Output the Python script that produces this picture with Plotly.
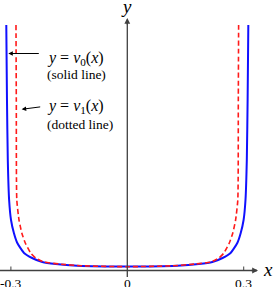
import plotly.graph_objects as go

# Curve samples (right half; mirrored for the left half)
blue_half_x = [0.0, 0.1289, 0.1843, 0.2191, 0.2454, 0.2662, 0.2835, 0.2923, 0.2997, 0.3046, 0.3080, 0.3101, 0.3119]
blue_half_y = [4.0, 4.8, 6.5, 8.5, 12.5, 17.5, 27.5, 37.5, 50.5, 70.5, 110.5, 170.5, 245.5]

red_half_x = [0.0, 0.1160, 0.1753, 0.2152, 0.2361, 0.2490, 0.2629, 0.2719, 0.2791, 0.2848, 0.2861, 0.2869]
red_half_y = [3.8, 4.7, 6.5, 8.5, 12.5, 17.5, 27.5, 37.5, 50.5, 70.5, 170.5, 245.5]

tick_vals = [-0.3, 0, 0.3]
tick_text = ["-0.3", "0", "0.3"]

blue_x = [-v for v in blue_half_x[::-1]] + blue_half_x[1:]
blue_y = blue_half_y[::-1] + blue_half_y[1:]
red_x = [-v for v in red_half_x[::-1]] + red_half_x[1:]
red_y = red_half_y[::-1] + red_half_y[1:]

SERIF = "Liberation Serif"
AX = "#404040"

fig = go.Figure()
fig.add_trace(go.Scatter(x=blue_x, y=blue_y, mode="lines",
                         line=dict(color="#1010ff", width=2, shape="spline", smoothing=0.5),
                         hoverinfo="skip", showlegend=False))
fig.add_trace(go.Scatter(x=red_x, y=red_y, mode="lines",
                         line=dict(color="#ff1a1a", width=1.6, dash="5px,3px", shape="spline", smoothing=0.5),
                         hoverinfo="skip", showlegend=False))

annotations = []
shapes = []
# axes
shapes.append(dict(type="line", x0=-0.33, x1=0.334, y0=0, y1=0, line=dict(color=AX, width=1.3)))
shapes.append(dict(type="line", x0=0, x1=0, y0=-6.5, y1=249, line=dict(color=AX, width=1.3)))
annotations.append(dict(x=0.3369, y=0, ax=-8, ay=0, text="", showarrow=True,
                        arrowhead=2, arrowsize=0.9, arrowwidth=1.3, arrowcolor=AX))
annotations.append(dict(x=0, y=252.5, ax=0, ay=8, text="", showarrow=True,
                        arrowhead=2, arrowsize=0.9, arrowwidth=1.3, arrowcolor=AX))
# ticks
for tv, tt in zip(tick_vals, tick_text):
    if tv != 0:
        shapes.append(dict(type="line", x0=tv, x1=tv, y0=0, y1=4, line=dict(color=AX, width=1)))
    annotations.append(dict(x=tv, y=-13, text=tt, showarrow=False,
                            font=dict(family=SERIF, size=13.5, color="#000"),
                            xanchor="center", yanchor="middle"))
# axis labels
annotations.append(dict(x=0.3626, y=1.5, text="<i>x</i>", showarrow=False,
                        font=dict(family=SERIF, size=19, color="#000")))
annotations.append(dict(x=-0.003, y=264.5, text="<i>y</i>", showarrow=False,
                        font=dict(family=SERIF, size=19, color="#000")))
# labels
annotations.append(dict(x=-0.2114, y=212.5, text="<i>y</i> = <i>ν</i><sub>0</sub>(<i>x</i>)", showarrow=False,
                        xanchor="left", yanchor="middle", font=dict(family=SERIF, size=16, color="#000")))
annotations.append(dict(x=-0.2114, y=196.5, text="(solid line)", showarrow=False,
                        xanchor="left", yanchor="middle", font=dict(family=SERIF, size=13.5, color="#000")))
annotations.append(dict(x=-0.2114, y=164.5, text="<i>y</i> = <i>ν</i><sub>1</sub>(<i>x</i>)", showarrow=False,
                        xanchor="left", yanchor="middle", font=dict(family=SERIF, size=16, color="#000")))
annotations.append(dict(x=-0.2114, y=146.5, text="(dotted line)", showarrow=False,
                        xanchor="left", yanchor="middle", font=dict(family=SERIF, size=13.5, color="#000")))
# pointer arrows
annotations.append(dict(x=-0.3067, y=217, ax=32, ay=0, text="", showarrow=True,
                        arrowhead=2, arrowsize=0.9, arrowwidth=1, arrowcolor="#000"))
annotations.append(dict(x=-0.2722, y=161.2, ax=20, ay=-2.6, text="", showarrow=True,
                        arrowhead=2, arrowsize=0.9, arrowwidth=1, arrowcolor="#000"))

fig.update_layout(
    width=273, height=287,
    margin=dict(l=0, r=0, t=0, b=0),
    paper_bgcolor="white", plot_bgcolor="white",
    xaxis=dict(range=[-0.3281, 0.3755], visible=False, fixedrange=True),
    yaxis=dict(range=[-16.5, 270.5], visible=False, fixedrange=True),
    shapes=shapes, annotations=annotations,
    showlegend=False,
)
fig.write_html("out.html", config={"staticPlot": True},
               post_script="document.body.style.margin='0';")
